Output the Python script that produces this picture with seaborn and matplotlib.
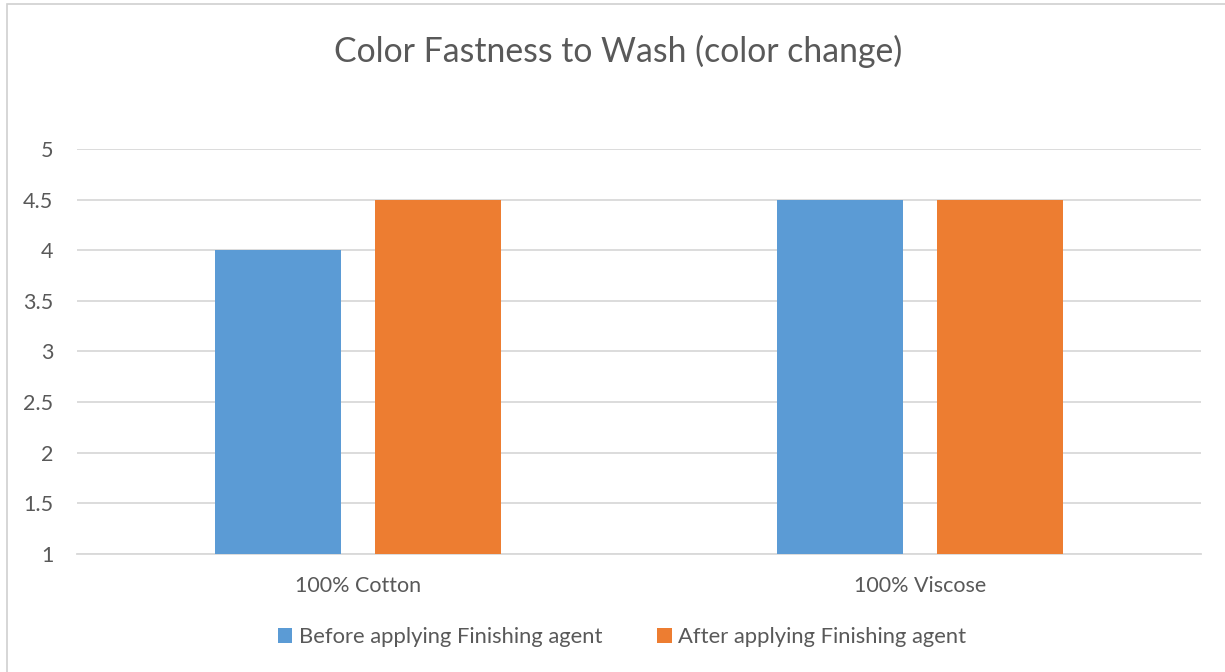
import matplotlib
matplotlib.use("Agg")
import matplotlib.pyplot as plt
from matplotlib.patches import Rectangle, Patch
import seaborn as sns
import pandas as pd

categories = ["100% Cotton", "100% Viscose"]
series_names = ["Before applying Finishing agent", "After applying Finishing agent"]
before_values = [4.0, 4.5]
after_values = [4.5, 4.5]
y_ticks = [1, 1.5, 2, 2.5, 3, 3.5, 4, 4.5, 5]
y_tick_labels = ["1", "1.5", "2", "2.5", "3", "3.5", "4", "4.5", "5"]

colors = ["#5B9BD5", "#ED7D31"]
text_color = "#595959"
grid_color = "#D9D9D9"

df = pd.DataFrame({
    "category": categories * 2,
    "series": [series_names[0]] * len(categories) + [series_names[1]] * len(categories),
    "value": before_values + after_values,
})

sns.set_theme(style="white")
plt.rcParams["font.family"] = ["Lato", "DejaVu Sans"]

fig = plt.figure(figsize=(12.25, 6.72), dpi=100)
ax = fig.add_axes([0.0629, 0.1756, 0.9175, 0.6027])

sns.barplot(data=df, x="category", y="value", hue="series", hue_order=series_names,
            palette=colors, width=0.569, gap=0.2125, saturation=1, linewidth=0,
            ax=ax, legend=False, zorder=3)

ax.set_ylim(1, 5)
ax.set_xlim(-0.5, 1.5)
ax.set_yticks(y_ticks)
ax.set_yticklabels(y_tick_labels)
ax.yaxis.grid(True, color=grid_color, linewidth=1.3, zorder=0)
ax.set_axisbelow(True)
for side in ["top", "right", "left"]:
    ax.spines[side].set_visible(False)
ax.spines["bottom"].set_color(grid_color)
ax.spines["bottom"].set_linewidth(1.3)
ax.tick_params(axis="both", length=0, colors=text_color, labelsize=15.5)
ax.tick_params(axis="y", pad=17)
ax.tick_params(axis="x", pad=16)
ax.set_xlabel("")
ax.set_ylabel("")

fig.text(0.505, 0.924, "Color Fastness to Wash (color change)", ha="center", va="center",
         fontsize=24.3, color=text_color)

handles = [Patch(facecolor=c, edgecolor="none") for c in colors]
fig.legend(handles, series_names, loc="center", bbox_to_anchor=(0.508, 0.052), ncol=2,
           frameon=False, fontsize=15.8, labelcolor=text_color, handlelength=0.65,
           handleheight=0.65, handletextpad=0.3, columnspacing=2.5)

# chart frame
fig.patches.append(Rectangle((0.0057, -0.05), 1.1, 1.044, transform=fig.transFigure,
                             fill=False, edgecolor="#D0D0D0", linewidth=1.2))

fig.savefig("out.png", dpi=100, facecolor="white")
